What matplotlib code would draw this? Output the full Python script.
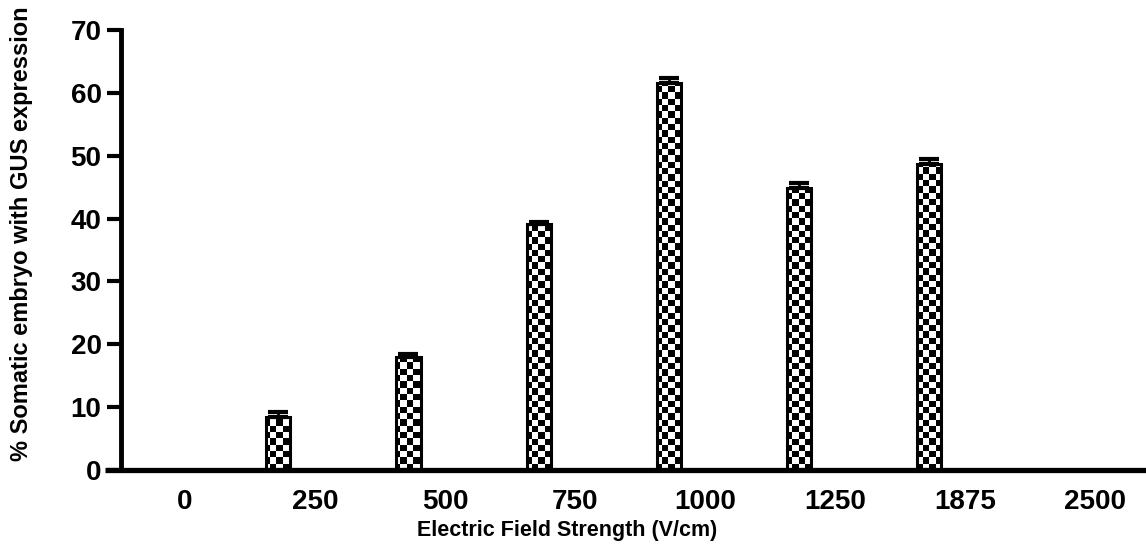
import numpy as np
import matplotlib
matplotlib.use("Agg")
import matplotlib.pyplot as plt

# field strength categories (V/cm) and % somatic embryos with GUS expression
categories = ["0", "250", "500", "750", "1000", "1250", "1875", "2500"]
values = [0, 8.5, 18.0, 39.1, 61.5, 44.8, 48.7, 0]
errors = [0, 0.7, 0.4, 0.4, 0.8, 0.8, 0.8, 0]

plt.rcParams['font.family'] = ['Liberation Sans', 'DejaVu Sans']

fig = plt.figure(figsize=(11.46, 5.44), dpi=100)
ax = fig.add_axes([0.1056, 0.136, 0.8944, 0.809])

x = np.arange(len(categories))
xb = x - 0.28  # bars sit left of the category labels in the original
bars = ax.bar(xb, values, width=0.185, facecolor="none", edgecolor="black", linewidth=2.2, zorder=3)

# checkerboard fill, clipped to each bar
xlo, xhi = -0.49, 7.39
cell = 6.2  # px
nx = int(1025 / cell)
ny = int(440 / cell)
checker = (np.add.outer(np.arange(ny), np.arange(nx)) % 2).astype(float)
for b, v in zip(bars, values):
    if v <= 0:
        continue
    im = ax.imshow(checker, cmap="gray", extent=(xlo, xhi, 0, 70), aspect="auto",
                   interpolation="nearest", zorder=2, origin="lower")
    im.set_clip_path(b)
ax.set_xlim(xlo, xhi)
ax.set_ylim(0, 70)

mask = np.array(values) > 0
ax.errorbar(xb[mask], np.array(values)[mask],
            yerr=[np.zeros(mask.sum()), np.array(errors)[mask]],
            fmt="none", ecolor="black", elinewidth=2, capsize=7, capthick=3, zorder=4)

# axes styling
for s in ["top", "right"]:
    ax.spines[s].set_visible(False)
ax.spines["left"].set_linewidth(3.5)
ax.spines["bottom"].set_visible(False)
ax.plot([-0.615, xhi], [0, 0], color="black", lw=3.8, clip_on=False, zorder=5,
        solid_capstyle="butt")

ax.set_yticks(range(0, 71, 10))
ax.set_xticks(x)
ax.set_xticklabels(categories)
ax.tick_params(axis="y", length=10, width=3, pad=4, labelsize=20)
ax.tick_params(axis="x", length=0, pad=14, labelsize=20)
for t in ax.get_xticklabels() + ax.get_yticklabels():
    t.set_fontweight("bold")

fig.text(0.495, 0.025, "Electric Field Strength (V/cm)", ha="center", va="center",
         fontsize=15.5, fontweight="bold")
fig.text(0.019, 0.57, "% Somatic embryo with GUS expression", ha="center", va="center",
         rotation=90, fontsize=17, fontweight="bold")

fig.savefig("out.png", dpi=100)
